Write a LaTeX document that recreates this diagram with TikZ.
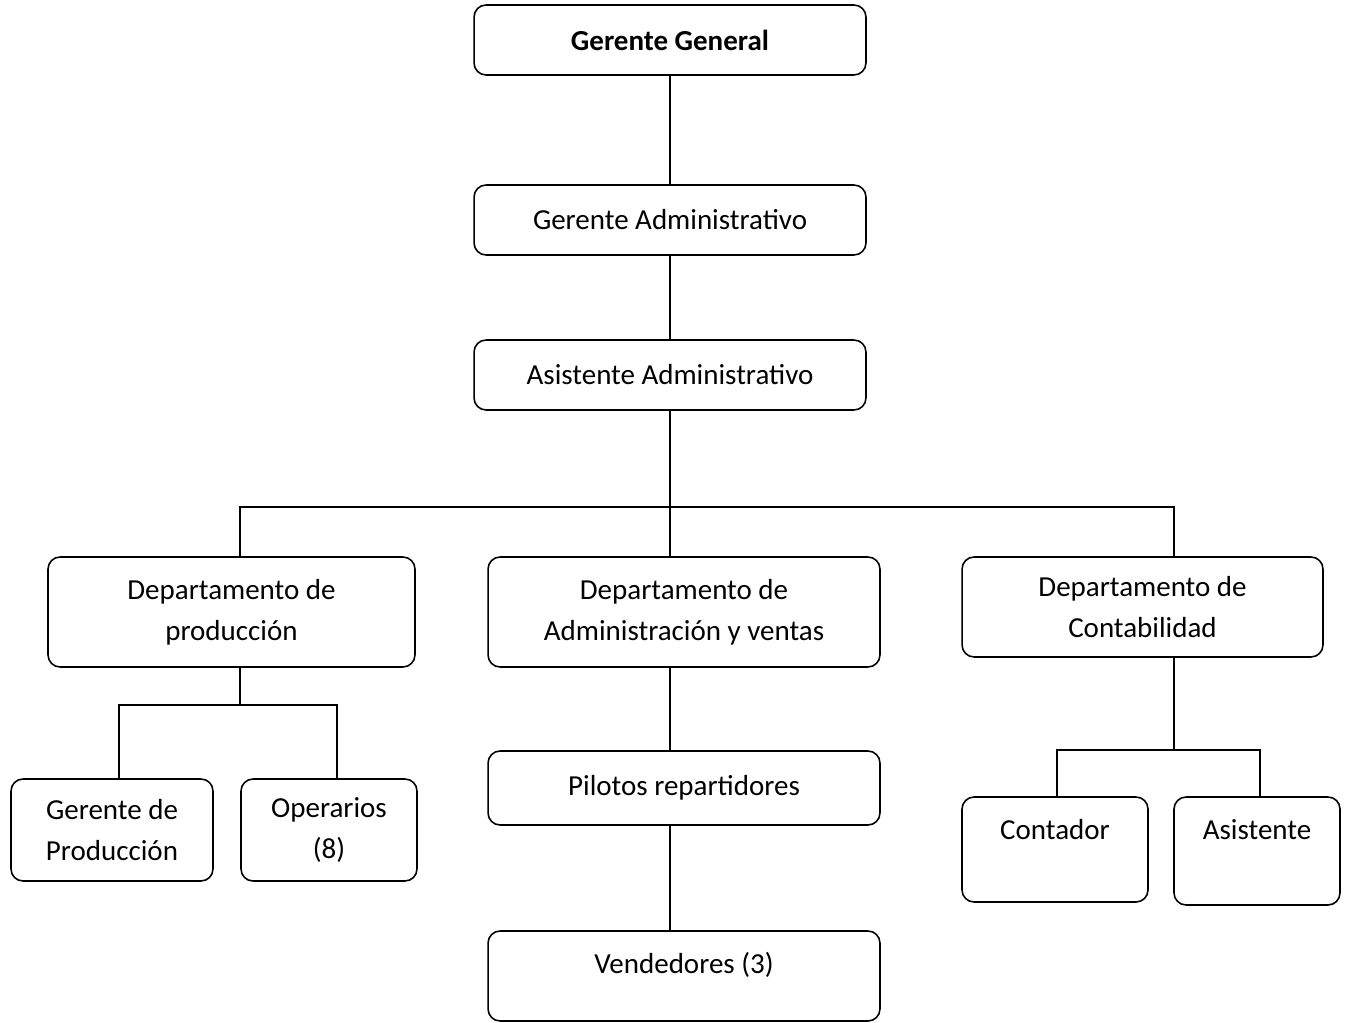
\documentclass[tikz,border=0pt]{standalone}
\usepackage{fontspec}
\setmainfont{Carlito}
\usepackage{tikz}
\usetikzlibrary{positioning}
\tikzset{x=0.02cm, y=-0.02cm,
  box/.style={draw, rounded corners=0.24cm, line width=0.9pt, align=center,
    inner sep=0pt, font=\fontsize{16.5}{23.3}\selectfont},
  txt/.style={align=center, inner sep=0pt, font=\fontsize{16.5}{23.3}\selectfont},
  link/.style={line width=0.9pt}}

\begin{document}
\begin{tikzpicture}
  \useasboundingbox (0,0) rectangle (1351,1023);
  % top of the chart
  \node[box, minimum width=7.84cm, minimum height=1.4cm] (gg) at (670,40) {\bfseries Gerente General};
  \node[box, minimum width=7.84cm, minimum height=1.4cm] (ga) at (670,220) {Gerente Administrativo};
  \node[box, minimum width=7.84cm, minimum height=1.4cm] (aa) at (670,375) {Asistente Administrativo};
  % departments
  \node[box, minimum width=7.34cm, minimum height=2.2cm] (dp) at (231.5,612) {Departamento de\\producción};
  \node[box, minimum width=7.84cm, minimum height=2.2cm] (dav) at (684,612) {Departamento de\\Administración y ventas};
  \node[box, minimum width=7.22cm, minimum height=2.0cm] (dc) at (1142.5,607) {Departamento de\\Contabilidad};
  % production
  \node[box, minimum width=4.04cm, minimum height=2.04cm] (gp) at (112,830) {Gerente de\\Producción};
  \node[box, minimum width=3.52cm, minimum height=2.04cm] (op) at (329,830) {Operarios\\(8)};
  % sales
  \node[box, minimum width=7.84cm, minimum height=1.48cm] (pr) at (684,788) {Pilotos repartidores};
  \node[box, minimum width=7.84cm, minimum height=1.8cm] (ven) at (684,976) {};
  \node[txt] (venT) at (684,965) {Vendedores (3)};
  % accounting
  \node[box, minimum width=3.72cm, minimum height=2.1cm] (cont) at (1055,849.5) {};
  \node[txt] (contT) at (1055,830) {Contador};
  \node[box, minimum width=3.32cm, minimum height=2.16cm] (asis) at (1257,851) {};
  \node[txt] (asisT) at (1257,830) {Asistente};

  \coordinate (bus) at (670,507);
  \coordinate (pbus) at (240,705);
  \coordinate (cbus) at (1174,750);

  \draw[link] (gg) -- (ga);
  \draw[link] (ga) -- (aa);
  \draw[link] (aa.south) -- ([xshift=-0.28cm]dav.north);
  \draw[link] ([xshift=0.17cm]dp.north) |- (bus) -| ([xshift=0.63cm]dc.north);
  \draw[link] ([xshift=0.17cm]dp.south) -- (pbus);
  \draw[link] ([xshift=0.14cm]gp.north) |- (pbus) -| ([xshift=0.16cm]op.north);
  \draw[link] ([xshift=-0.28cm]dav.south) -- ([xshift=-0.28cm]pr.north);
  \draw[link] ([xshift=-0.28cm]pr.south) -- ([xshift=-0.28cm]ven.north);
  \draw[link] ([xshift=0.63cm]dc.south) -- (cbus);
  \draw[link] ([xshift=0.04cm]cont.north) |- (cbus) -| ([xshift=0.06cm]asis.north);
\end{tikzpicture}
\end{document}
